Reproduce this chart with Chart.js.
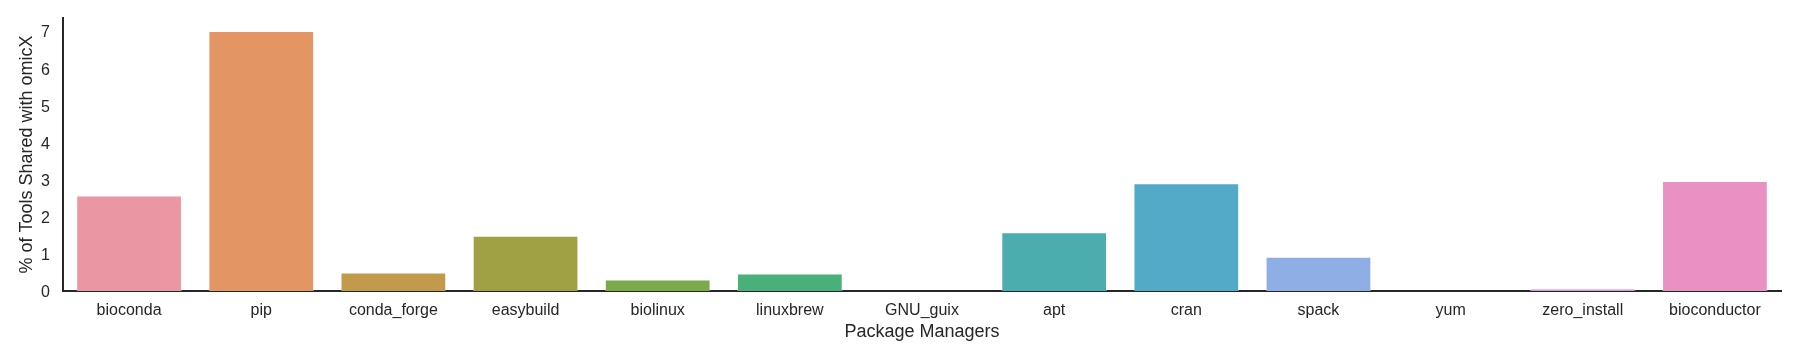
<!DOCTYPE html>
<html>
<head>
<meta charset="utf-8">
<script src="https://cdn.jsdelivr.net/npm/chart.js@4/dist/chart.umd.min.js"></script>
<style>
  html, body { margin: 0; padding: 0; background: #fff; }
  #wrap { width: 1800px; height: 360px; }
</style>
</head>
<body>
<div id="wrap"><canvas id="shared"></canvas></div>
<script>
const managers = ["bioconda", "pip", "conda_forge", "easybuild", "biolinux", "linuxbrew",
    "GNU_guix", "apt", "cran", "spack", "yum", "zero_install", "bioconductor"];
const sharedPct = [2.57, 7.0, 0.50, 1.49, 0.31, 0.47, 0, 1.58, 2.90, 0.92, 0, 0.07, 2.96];
const barColors = ["#ea96a3", "#e39563", "#c19a4c", "#a0a045", "#7aaa4b", "#49b07a",
    "#48b0a0", "#4cadae", "#52aac8", "#8eaee5", "#b4a2e8", "#d88ee0", "#e891c2"];
const yTicks = [0, 1, 2, 3, 4, 5, 6, 7];

const ink = "#262626";
const font = "'Liberation Sans', Arial, sans-serif";

const chart = new Chart(document.getElementById("shared"), {
    type: "bar",
    data: {
        labels: managers,
        datasets: [{
            data: sharedPct,
            backgroundColor: barColors,
            borderColor: "rgba(255,255,255,0.35)",
            borderWidth: 1,
            categoryPercentage: 1.0,
            barPercentage: 0.8,
        }],
    },
    options: {
        responsive: true,
        maintainAspectRatio: false,
        animation: false,
        layout: { padding: { left: 0, right: 19, top: 18, bottom: 0 } },
        plugins: { legend: { display: false }, tooltip: { enabled: false } },
        scales: {
            x: {
                grid: { display: false, drawTicks: false },
                border: { display: true, color: ink, width: 2 },
                ticks: { color: ink, font: { family: font, size: 16 }, padding: 10, maxRotation: 0 },
                title: {
                    display: true, text: "Package Managers", color: ink,
                    font: { family: font, size: 18 }, padding: { top: 0, bottom: 17 },
                },
                afterFit: (s) => { s.height = 69; },
            },
            y: {
                min: 0,
                max: 7.35,
                grid: { display: false, drawTicks: false },
                border: { display: true, color: ink, width: 2 },
                ticks: { color: ink, font: { family: font, size: 16 }, padding: 13, labelOffset: 2 },
                afterBuildTicks: (s) => { s.ticks = yTicks.map(v => ({ value: v })); },
                title: {
                    display: true, text: "% of Tools Shared with omicX", color: ink,
                    font: { family: font, size: 18 }, padding: { top: 16, bottom: 0 },
                },
                // keep the plot top where the reference has it
                afterFit: (s) => { s.width = 63; s.paddingTop = 0; s.paddingBottom = 0; },
            },
        },
    },
});
</script>
</body>
</html>
